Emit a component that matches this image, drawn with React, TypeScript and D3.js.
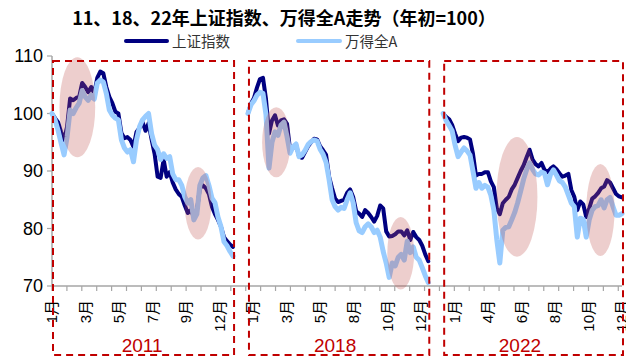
import React from 'react';
import * as d3 from 'd3';

const WIDTH = 626;
const HEIGHT = 361;

// three calendar years laid side by side on one category axis (trading-day index)
const years = ['2011', '2018', '2022'];
const yearStart = [0, 263, 525];
const yearEnd = [243, 505, 765];
const yearLabelAt = [121, 380, 628];

const monthLabels = [
  '1月', '3月', '5月', '7月', '9月', '12月',
  '1月', '3月', '5月', '8月', '10月', '12月',
  '1月', '4月', '6月', '8月', '10月', '12月',
];

// 上证指数, year start = 100
const sh2011 = [100, 99.2, 98.5, 96.8, 95.4, 97.7, 102.6, 102.3, 102.7, 102.9, 105.3, 104.6, 103.7, 104.6, 103.5, 106.2, 107.3, 107, 104.6, 102.9, 101.8, 100.3, 100, 96.6, 95.7, 95.9, 95.4, 94.2, 96.8, 97.5, 98.5, 97, 98.3, 95.5, 93, 89, 88.8, 92, 89, 89.8, 88, 86.8, 86, 85.5, 84, 82.7, 83.2, 82, 83, 87, 87.5, 87, 86, 83.8, 82.5, 81.5, 80.3, 78.5, 77.8, 77.2, 76.8];
const sh2018 = [100, 101.7, 102.7, 104.5, 106, 106.2, 102.5, 96.5, 98.8, 99.7, 97.9, 98.8, 99, 98.2, 93.7, 94, 94.6, 92.5, 92.3, 93.3, 94.3, 95, 95.6, 95.5, 94.3, 93.6, 92.8, 89, 87, 85.2, 84.6, 84.8, 85, 86.2, 86.8, 85.5, 83, 82.6, 82, 83.2, 82.7, 82, 81.2, 82.2, 84, 83.5, 79.5, 78.6, 78.7, 79, 79.5, 79.5, 78.8, 79.7, 78, 79.4, 78.5, 78, 77, 75.5, 74.3];
const sh2022 = [100, 99.4, 99, 98, 96.5, 95.2, 95.8, 95.9, 95.8, 95.5, 93, 89.2, 89.5, 89.5, 89.8, 89.8, 88.2, 87.2, 83.5, 82.5, 84.4, 85, 85.5, 86.8, 87.6, 88.8, 90, 91, 92.4, 93.7, 92, 91.2, 90.8, 91.4, 90.2, 89.8, 90.4, 90.8, 90.3, 89.6, 89, 89.2, 89.5, 86.7, 85.5, 83.2, 84.7, 84.2, 82, 83.5, 85.2, 85.6, 86.2, 87, 87.3, 88.4, 88, 87, 86, 85.6, 85.4];

// 万得全A, year start = 100
const wind2011 = [100, 98.9, 97.1, 94.9, 92.8, 95.9, 100.6, 100, 101, 101.8, 104, 102.9, 102.3, 103.2, 102.5, 105.3, 105.8, 105.5, 103.5, 100.6, 99.7, 99.2, 98.9, 95.4, 94, 93.3, 93.7, 91.6, 95.4, 97.7, 98.9, 99.5, 100, 96.5, 94.5, 93.7, 92, 93, 92.2, 92.5, 89.5, 88.5, 88.5, 87.5, 85.5, 84.4, 85, 81.5, 82.5, 87.5, 88.8, 89.2, 87.5, 85.3, 84.5, 82, 80.3, 77.7, 77, 76, 75.2];
const wind2018 = [100, 101.5, 102.2, 103.2, 103.7, 103.5, 99.8, 90.5, 95, 96.8, 96.2, 98, 98.5, 96, 93.1, 94.2, 94.7, 92.5, 92.8, 93.6, 94.6, 95.1, 95.4, 95.2, 93.8, 92.9, 91.5, 88.5, 85, 83.8, 83.2, 83.7, 83.5, 85, 86.2, 84.5, 81, 79.6, 79.3, 80.3, 80.8, 80.3, 79.3, 79.7, 78.5, 76, 74, 71.5, 74, 73.5, 75, 75.5, 74.5, 77.8, 75.8, 76.8, 75, 74.5, 73.2, 71.8, 70.6];
const wind2022 = [100, 98.8, 97.9, 97, 94.5, 92.5, 93.3, 94, 93.5, 92.8, 90, 87, 88, 87, 87.5, 87.2, 85.8, 83.2, 78, 74, 79.7, 80.2, 80.3, 81.5, 82.8, 84.5, 86.5, 88.6, 90.2, 91.4, 90.3, 89.5, 89.3, 89.8, 89.6, 87.6, 89.4, 90.2, 89.3, 88.3, 88, 87.2, 85.8, 84.4, 83.8, 78.5, 81.8, 81.6, 78.5, 81.5, 83.2, 83.8, 84, 85, 83.6, 85, 85.4, 83.8, 82.3, 82.3, 82.6];

const shSeries = [sh2011, sh2018, sh2022];
const windSeries = [wind2011, wind2018, wind2022];

// highlighted episodes: centre (axis index, value) and half sizes
const hlCenterIdx = [34, 196, 301, 468, 624, 736];
const hlCenterVal = [101.1, 84.4, 95.0, 75.7, 85.5, 83.2];
const hlHalfIdx = [24, 18, 19, 18, 27.5, 19];
const hlHalfVal = [8.7, 6.3, 6.1, 6.3, 10.4, 8];

const yTicks = [70, 80, 90, 100, 110];

const FONT = '"Liberation Sans", Arial, "Noto Sans CJK SC", sans-serif';
const CJK = '"Noto Sans CJK SC", "Liberation Sans", sans-serif';
const NAVY = '#000080';
const LIGHT = '#99ccff';
const RED = '#c00000';
const AXIS = '#a6a6a6';

const App: React.FC = () => {
  const x = d3.scaleLinear().domain([0, 765]).range([52, 622]);
  const y = d3.scaleLinear().domain([70, 110]).range([286, 56]);

  const toPoints = (vals: number[], k: number): [number, number][] => {
    const step = (yearEnd[k] - yearStart[k]) / (vals.length - 1);
    return vals.map((v, i) => [yearStart[k] + i * step, v]);
  };

  const line = d3.line<[number, number]>()
    .x(d => x(d[0]))
    .y(d => y(d[1]));

  const xTicks = d3.range(0, 761, 20);
  const labelIdx = monthLabels.map((_, i) => i * 45);

  return (
    <div style={{ position: 'absolute', left: 0, top: 0 }}>
      <svg width={WIDTH} height={HEIGHT} style={{ display: 'block', background: '#fff' }}>
        {/* title */}
        <text x={284} y={25} textAnchor="middle" fontFamily={CJK} fontWeight="bold" fontSize={18} fill="#000">
          11、18、22年上证指数、万得全A走势（年初=100）
        </text>

        {/* legend */}
        <line x1={126} x2={167} y1={41} y2={41} stroke={NAVY} strokeWidth={4} strokeLinecap="round" />
        <text x={172} y={47} fontFamily={CJK} fontSize={14.5} fill="#333">上证指数</text>
        <line x1={298} x2={340} y1={41} y2={41} stroke={LIGHT} strokeWidth={4} strokeLinecap="round" />
        <text x={345} y={47} fontFamily={CJK} fontSize={14.5} fill="#333">万得全A</text>

        {/* y axis */}
        <line x1={52} x2={52} y1={y(110)} y2={y(70)} stroke={AXIS} strokeWidth={1.5} />
        {yTicks.map(t => (
          <g key={t}>
            <line x1={47} x2={52} y1={y(t)} y2={y(t)} stroke={AXIS} strokeWidth={1.2} />
            <text x={43} y={y(t)} dy="0.35em" textAnchor="end" fontFamily={FONT} fontSize={18} fill="#000">{t}</text>
          </g>
        ))}

        {/* x axis */}
        <line x1={x(0)} x2={x(765)} y1={y(70)} y2={y(70)} stroke={AXIS} strokeWidth={1.5} />
        {xTicks.map(t => (
          <line key={t} x1={x(t)} x2={x(t)} y1={y(70)} y2={y(70) + 5} stroke={AXIS} strokeWidth={1.2} />
        ))}
        {monthLabels.map((m, i) => (
          <text key={i} transform={`translate(${x(labelIdx[i])},300) rotate(-90)`} dy="0.35em"
            textAnchor="end" fontFamily={FONT} fontSize={15} fill="#000">{m}</text>
        ))}

        {/* series: 上证 first, 万得全A drawn over it */}
        {shSeries.map((s, k) => (
          <path key={'sh' + k} d={line(toPoints(s, k)) || ''} fill="none" stroke={NAVY}
            strokeWidth={4} strokeLinejoin="round" strokeLinecap="round" />
        ))}
        {windSeries.map((s, k) => (
          <path key={'w' + k} d={line(toPoints(s, k)) || ''} fill="none" stroke={LIGHT}
            strokeWidth={5} strokeLinejoin="round" strokeLinecap="round" />
        ))}

        {/* highlight ellipses */}
        {hlCenterIdx.map((c, i) => (
          <ellipse key={i} cx={x(c)} cy={y(hlCenterVal[i])}
            rx={x(c + hlHalfIdx[i]) - x(c)} ry={y(hlCenterVal[i] - hlHalfVal[i]) - y(hlCenterVal[i])}
            fill="#c0504d" fillOpacity={0.28} />
        ))}

        {/* year boxes */}
        {years.map((yr, k) => (
          <g key={yr}>
            <rect x={x(yearStart[k]) + 1} y={61} width={x(yearEnd[k]) - x(yearStart[k])} height={294}
              fill="none" stroke={RED} strokeWidth={2} strokeDasharray="7,5" />
            <text x={x(yearLabelAt[k])} y={352} textAnchor="middle" fontFamily={FONT} fontSize={19} fill={RED}>{yr}</text>
          </g>
        ))}
      </svg>
    </div>
  );
};

export default App;
